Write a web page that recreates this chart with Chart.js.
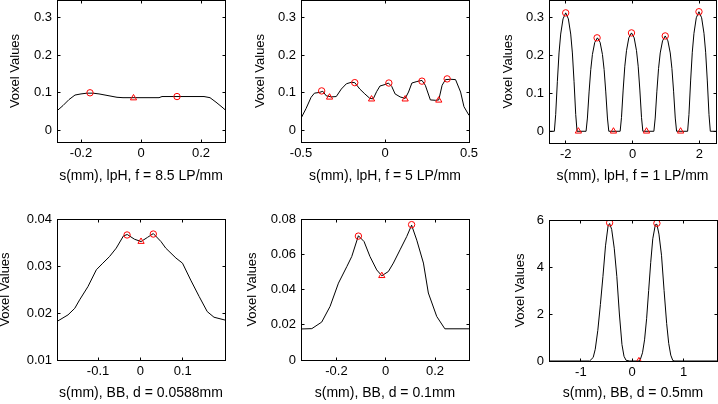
<!DOCTYPE html>
<html lang="en">
<head>
    <meta charset="UTF-8">
    <title>Voxel profiles</title>
    <script src="https://cdn.jsdelivr.net/npm/chart.js"></script>
    <style>
        html, body {
            margin: 0;
            padding: 0;
            width: 718px;
            height: 404px;
            overflow: hidden;
            background: #fff;
        }
        canvas {
            position: absolute;
        }
    </style>
</head>
<body>

<canvas id="p1"></canvas>
<canvas id="p2"></canvas>
<canvas id="p3"></canvas>
<canvas id="p4"></canvas>
<canvas id="p5"></canvas>
<canvas id="p6"></canvas>

<script>
    // --- data ---
    var yTitle = 'Voxel Values';

    // lpH, f = 8.5 LP/mm
    var p1Label = 's(mm), lpH, f = 8.5 LP/mm';
    var p1X = [-0.28, -0.26, -0.24, -0.22, -0.20, -0.18, -0.16, -0.14, -0.12, -0.10, -0.08, -0.06, -0.04, -0.02, 0.00, 0.02, 0.04, 0.06, 0.07, 0.10, 0.14, 0.18, 0.21, 0.23, 0.25, 0.27, 0.28];
    var p1Y = [0.052, 0.066, 0.082, 0.094, 0.097, 0.099, 0.099, 0.097, 0.094, 0.091, 0.088, 0.087, 0.087, 0.087, 0.087, 0.087, 0.087, 0.087, 0.090, 0.090, 0.090, 0.090, 0.090, 0.087, 0.075, 0.062, 0.055];
    var p1PeakX = [-0.17, 0.12];
    var p1PeakY = [0.100, 0.090];
    var p1ValleyX = [-0.025];
    var p1ValleyY = [0.086];
    var p1XTicks = [-0.2, 0, 0.2];
    var p1YTicks = [0, 0.1, 0.2, 0.3];

    // lpH, f = 5 LP/mm
    var p2Label = 's(mm), lpH, f = 5 LP/mm';
    var p2X = [-0.5, -0.47, -0.44, -0.42, -0.39, -0.37, -0.35, -0.32, -0.29, -0.26, -0.23, -0.20, -0.18, -0.15, -0.12, -0.09, -0.07, -0.05, -0.03, 0.00, 0.02, 0.04, 0.06, 0.09, 0.12, 0.14, 0.16, 0.19, 0.22, 0.24, 0.27, 0.30, 0.32, 0.34, 0.36, 0.39, 0.42, 0.45, 0.47, 0.5];
    var p2Y = [0.032, 0.058, 0.088, 0.099, 0.101, 0.104, 0.092, 0.089, 0.090, 0.110, 0.124, 0.128, 0.127, 0.110, 0.097, 0.085, 0.084, 0.103, 0.118, 0.122, 0.126, 0.117, 0.097, 0.089, 0.085, 0.102, 0.126, 0.130, 0.133, 0.120, 0.081, 0.080, 0.081, 0.120, 0.135, 0.136, 0.135, 0.102, 0.063, 0.040];
    var p2PeakX = [-0.377, -0.18, 0.023, 0.22, 0.37];
    var p2PeakY = [0.105, 0.127, 0.126, 0.131, 0.137];
    var p2ValleyX = [-0.33, -0.08, 0.12, 0.32];
    var p2ValleyY = [0.088, 0.083, 0.083, 0.080];
    var p2XTicks = [-0.5, 0, 0.5];
    var p2YTicks = [0, 0.1, 0.2, 0.3];

    // lpH, f = 1 LP/mm
    var p3Label = 's(mm), lpH, f = 1 LP/mm';
    var p3X = [-2.5,
        -2.34, -2.30, -2.25, -2.20, -2.15, -2.08, -2.00, -1.92, -1.85, -1.80, -1.75, -1.70, -1.66,
        -1.39, -1.35, -1.30, -1.25, -1.20, -1.13, -1.05, -0.97, -0.90, -0.85, -0.80, -0.75, -0.71,
        -0.37, -0.33, -0.28, -0.23, -0.18, -0.11, -0.03, 0.05, 0.12, 0.17, 0.22, 0.27, 0.31,
        0.64, 0.68, 0.73, 0.78, 0.83, 0.90, 0.98, 1.06, 1.13, 1.18, 1.23, 1.28, 1.32,
        1.65, 1.69, 1.74, 1.79, 1.84, 1.91, 1.99, 2.07, 2.14, 2.19, 2.24, 2.29, 2.33,
        2.5];
    var p3Y = [0,
        0, 0.044, 0.131, 0.207, 0.257, 0.297, 0.313, 0.297, 0.257, 0.207, 0.131, 0.044, 0,
        0, 0.035, 0.104, 0.163, 0.203, 0.235, 0.247, 0.235, 0.203, 0.163, 0.104, 0.035, 0,
        0, 0.036, 0.109, 0.172, 0.213, 0.247, 0.260, 0.247, 0.213, 0.172, 0.109, 0.036, 0,
        0, 0.035, 0.106, 0.166, 0.207, 0.239, 0.252, 0.239, 0.207, 0.166, 0.106, 0.035, 0,
        0, 0.044, 0.133, 0.209, 0.259, 0.300, 0.316, 0.300, 0.259, 0.209, 0.133, 0.044, 0,
        0];
    var p3PeakX = [-2.0, -1.06, -0.03, 0.98, 1.99];
    var p3PeakY = [0.313, 0.247, 0.260, 0.252, 0.316];
    var p3ValleyX = [-1.62, -0.57, 0.42, 1.44];
    var p3ValleyY = [0, 0, 0, 0];
    var p3XTicks = [-2, 0, 2];
    var p3YTicks = [0, 0.1, 0.2, 0.3];

    // BB, d = 0.0588mm
    var p4Label = 's(mm), BB, d = 0.0588mm';
    var p4X = [-0.197, -0.171, -0.155, -0.1435, -0.124, -0.104, -0.0887, -0.073, -0.057, -0.04, -0.031, -0.014, 0.0016, 0.017, 0.0306, 0.0487, 0.06, 0.084, 0.0996, 0.119, 0.139, 0.158, 0.174, 0.2];
    var p4Y = [0.0182, 0.0196, 0.021, 0.0228, 0.0256, 0.0292, 0.0306, 0.032, 0.0338, 0.0364, 0.0367, 0.0357, 0.0352, 0.0361, 0.0369, 0.0352, 0.0338, 0.0317, 0.0306, 0.027, 0.0235, 0.0203, 0.0191, 0.0185];
    var p4PeakX = [-0.0314, 0.0306];
    var p4PeakY = [0.0366, 0.0368];
    var p4ValleyX = [0.0016];
    var p4ValleyY = [0.0352];
    var p4XTicks = [-0.1, 0, 0.1];
    var p4YTicks = [0.01, 0.02, 0.03, 0.04];

    // BB, d = 0.1mm
    var p5Label = 's(mm), BB, d = 0.1mm';
    var p5X = [-0.344, -0.30, -0.26, -0.226, -0.192, -0.158, -0.138, -0.111, -0.088, -0.064, -0.0365, -0.016, 0.0106, 0.031, 0.058, 0.085, 0.105, 0.126, 0.153, 0.173, 0.207, 0.24, 0.338];
    var p5Y = [0.0176, 0.0178, 0.0215, 0.0304, 0.0436, 0.053, 0.0587, 0.0705, 0.0672, 0.0587, 0.0511, 0.0478, 0.0502, 0.055, 0.0625, 0.07, 0.0765, 0.068, 0.055, 0.038, 0.0247, 0.0177, 0.0177];
    var p5PeakX = [-0.111, 0.105];
    var p5PeakY = [0.0703, 0.0768];
    var p5ValleyX = [-0.016];
    var p5ValleyY = [0.0478];
    var p5XTicks = [-0.2, 0, 0.2];
    var p5YTicks = [0, 0.02, 0.04, 0.06, 0.08];

    // BB, d = 0.5mm
    var p6Label = 's(mm), BB, d = 0.5mm';
    var p6X = [-1.62, -0.83, -0.76, -0.72, -0.67, -0.62, -0.57, -0.52, -0.47, -0.44, -0.40, -0.35, -0.30, -0.25, -0.20, -0.16, -0.12, -0.05, 0.13, 0.16, 0.20, 0.24, 0.28, 0.32, 0.36, 0.40, 0.45, 0.48, 0.52, 0.57, 0.62, 0.67, 0.71, 0.75, 0.79, 0.83, 1.65];
    var p6Y = [0, 0, 0.15, 0.5, 1.3, 2.4, 3.6, 4.9, 5.75, 5.85, 5.6, 4.8, 3.6, 2.0, 0.7, 0.2, 0.03, 0, 0, 0.08, 0.35, 0.9, 1.8, 3.0, 4.2, 5.2, 5.8, 5.82, 5.4, 4.5, 3.0, 1.6, 0.75, 0.25, 0.02, 0, 0];
    var p6PeakX = [-0.44, 0.48];
    var p6PeakY = [5.88, 5.86];
    var p6ValleyX = [0.13];
    var p6ValleyY = [0];
    var p6XTicks = [-1, 0, 1];
    var p6YTicks = [0, 2, 4, 6];

    var fontFamily = "'Liberation Sans', Arial, sans-serif";

    function pairs(xs, ys) {
        return xs.map(function (x, i) { return {x: x, y: ys[i]}; });
    }

    function fmt(v) {
        return String(+v.toFixed(4));
    }

    // box with inward ticks on all four sides
    var framePlugin = {
        id: 'frame',
        afterDraw: function (chart) {
            var ctx = chart.ctx, a = chart.chartArea;
            var sx = chart.scales.x, sy = chart.scales.y;
            var l = Math.floor(a.left) + 0.5, r = Math.floor(a.right) + 0.5;
            var t = Math.floor(a.top) + 0.5, b = Math.floor(a.bottom) + 0.5;
            ctx.save();
            ctx.strokeStyle = '#000';
            ctx.lineWidth = 1;
            ctx.strokeRect(l, t, r - l, b - t);
            ctx.beginPath();
            sx.ticks.forEach(function (tk) {
                var px = Math.floor(sx.getPixelForValue(tk.value)) + 0.5;
                ctx.moveTo(px, b); ctx.lineTo(px, b - 3);
                ctx.moveTo(px, t); ctx.lineTo(px, t + 3);
            });
            sy.ticks.forEach(function (tk) {
                var py = Math.floor(sy.getPixelForValue(tk.value)) + 0.5;
                ctx.moveTo(l, py); ctx.lineTo(l + 3, py);
                ctx.moveTo(r, py); ctx.lineTo(r - 3, py);
            });
            ctx.stroke();
            ctx.restore();
        }
    };

    function makePanel(id, box, lim, xs, ys, peakX, peakY, valX, valY, xTicks, yTicks, xLabel) {
        var padTop = 10, padRight = 14;
        var cl = Math.round(box.yc - 7.8);
        var ct = box.T - padTop;
        var yw = box.L - cl;
        var W = box.R + padRight - cl;
        var H = Math.round(box.xc + 8.4) - ct;
        var xh = H - (box.B - ct);

        var cv = document.getElementById(id);
        cv.width = W;
        cv.height = H;
        cv.style.left = cl + 'px';
        cv.style.top = ct + 'px';

        new Chart(cv.getContext('2d'), {
            type: 'scatter',
            data: {
                datasets: [{
                    data: pairs(peakX, peakY),
                    pointStyle: 'circle',
                    pointRadius: 3.2,
                    pointBorderWidth: 1,
                    borderColor: '#ff0000',
                    backgroundColor: 'rgba(0,0,0,0)',
                    showLine: false
                }, {
                    data: pairs(valX, valY),
                    pointStyle: 'triangle',
                    pointRadius: 3.6,
                    pointBorderWidth: 1,
                    borderColor: '#ff0000',
                    backgroundColor: 'rgba(0,0,0,0)',
                    showLine: false
                }, {
                    data: pairs(xs, ys),
                    showLine: true,
                    borderColor: '#000',
                    borderWidth: 1,
                    pointRadius: 0,
                    tension: 0
                }]
            },
            options: {
                responsive: false,
                animation: false,
                events: [],
                layout: {padding: {left: 0, top: padTop, right: padRight, bottom: 0}},
                plugins: {legend: {display: false}, tooltip: {enabled: false}},
                scales: {
                    x: {
                        type: 'linear',
                        min: lim.x0,
                        max: lim.x1,
                        grid: {display: false, drawTicks: false},
                        border: {display: false},
                        afterBuildTicks: function (s) {
                            s.ticks = xTicks.map(function (v) { return {value: v}; });
                        },
                        afterFit: function (s) {
                            s.height = xh;
                            s.paddingLeft = 0;
                            s.paddingRight = 0;
                        },
                        ticks: {
                            color: '#000',
                            padding: 4,
                            maxRotation: 0,
                            autoSkip: false,
                            font: {family: fontFamily, size: 13},
                            callback: fmt
                        },
                        title: {
                            display: true,
                            text: xLabel,
                            color: '#000',
                            padding: 0,
                            font: {family: fontFamily, size: 14}
                        }
                    },
                    y: {
                        type: 'linear',
                        min: lim.y0,
                        max: lim.y1,
                        grid: {display: false, drawTicks: false},
                        border: {display: false},
                        afterBuildTicks: function (s) {
                            s.ticks = yTicks.map(function (v) { return {value: v}; });
                        },
                        afterFit: function (s) {
                            s.width = yw;
                            s.paddingTop = 0;
                            s.paddingBottom = 0;
                        },
                        ticks: {
                            color: '#000',
                            padding: 5,
                            autoSkip: false,
                            font: {family: fontFamily, size: 13},
                            callback: fmt
                        },
                        title: {
                            display: true,
                            text: yTitle,
                            color: '#000',
                            padding: 0,
                            font: {family: fontFamily, size: 13}
                        }
                    }
                }
            },
            plugins: [framePlugin]
        });
    }

    makePanel('p1', {L: 57, T: 0, R: 225, B: 142, yc: 15.5, xc: 176.7},
        {x0: -0.28, x1: 0.28, y0: -0.031, y1: 0.347},
        p1X, p1Y, p1PeakX, p1PeakY, p1ValleyX, p1ValleyY, p1XTicks, p1YTicks, p1Label);
    makePanel('p2', {L: 301, T: 0, R: 469, B: 142, yc: 260.8, xc: 176.7},
        {x0: -0.5, x1: 0.5, y0: -0.031, y1: 0.347},
        p2X, p2Y, p2PeakX, p2PeakY, p2ValleyX, p2ValleyY, p2XTicks, p2YTicks, p2Label);
    makePanel('p3', {L: 549, T: 0, R: 716, B: 143, yc: 508.8, xc: 176.7},
        {x0: -2.5, x1: 2.5, y0: -0.031, y1: 0.347},
        p3X, p3Y, p3PeakX, p3PeakY, p3ValleyX, p3ValleyY, p3XTicks, p3YTicks, p3Label);
    makePanel('p4', {L: 57, T: 219, R: 225, B: 360, yc: 5.8, xc: 393.3},
        {x0: -0.197, x1: 0.2, y0: 0.01, y1: 0.04},
        p4X, p4Y, p4PeakX, p4PeakY, p4ValleyX, p4ValleyY, p4XTicks, p4YTicks, p4Label);
    makePanel('p5', {L: 301, T: 219, R: 469, B: 360, yc: 252.5, xc: 393.3},
        {x0: -0.344, x1: 0.338, y0: 0, y1: 0.08},
        p5X, p5Y, p5PeakX, p5PeakY, p5ValleyX, p5ValleyY, p5XTicks, p5YTicks, p5Label);
    makePanel('p6', {L: 549, T: 220, R: 717, B: 361, yc: 520.5, xc: 393.3},
        {x0: -1.62, x1: 1.65, y0: 0, y1: 6},
        p6X, p6Y, p6PeakX, p6PeakY, p6ValleyX, p6ValleyY, p6XTicks, p6YTicks, p6Label);
</script>

</body>
</html>
